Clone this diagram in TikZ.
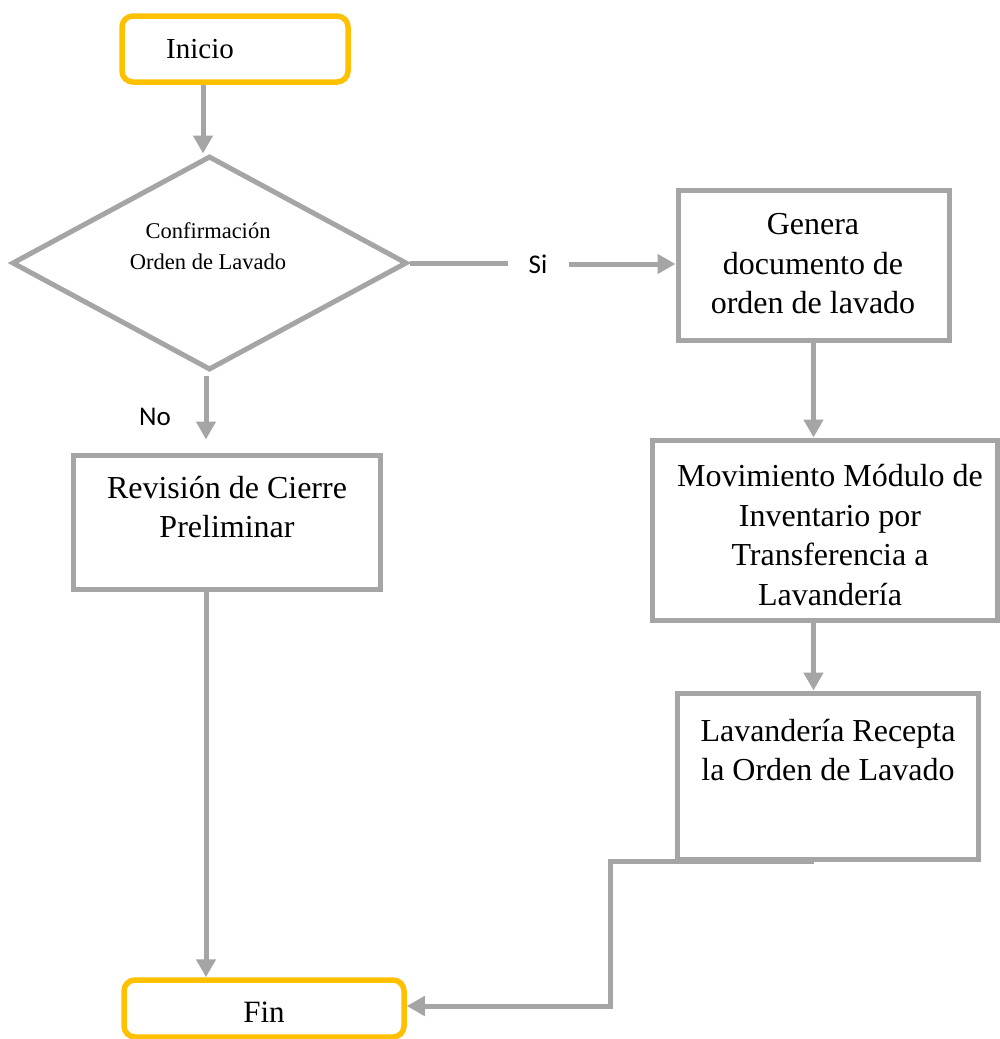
\documentclass[tikz,border=0pt]{standalone}
\usepackage{fontspec}
\setmainfont{Liberation Serif}
\newfontfamily\calibri{Carlito}
\usetikzlibrary{shapes.geometric,arrows.meta}
\definecolor{lgray}{HTML}{A5A5A5}
\definecolor{gold}{HTML}{FFC000}
\begin{document}
\begin{tikzpicture}[x=1pt,y=-1pt,
  box/.style={draw=lgray,line width=5pt,rectangle,inner sep=0pt},
  term/.style={draw=gold,line width=5.5pt,rounded corners=11pt,rectangle,inner sep=0pt},
  txt/.style={align=center,font=\fontsize{32}{39.5}\selectfont,inner sep=0pt},
  lbl/.style={font=\calibri\fontsize{27}{32}\selectfont,inner ysep=0pt},
  conn/.style={draw=lgray,line width=5pt},
  arr/.style={conn,-{Triangle[length=18pt,width=19pt]}},
]
\useasboundingbox (0,0) rectangle (999,1039);
% terminals
\node[term,minimum width=226pt,minimum height=66pt] (ini) at (235,49) {};
\node[txt,font=\fontsize{29}{35}\selectfont] (initxt) at (200,49) {Inicio};
\node[term,minimum width=280pt,minimum height=57pt] (fin) at (264,1008.5) {};
\node[txt,font=\fontsize{31}{35}\selectfont] (fintxt) at (264,1012) {Fin};
% decision
\node[draw=lgray,line width=5pt,diamond,minimum width=395pt,minimum height=214pt,inner sep=0pt] (dia) at (209.5,263) {};
\node[txt,font=\fontsize{22.5}{31}\selectfont] (diatxt) at (208,246) {Confirmación\\Orden de Lavado};
% process boxes
\node[box,minimum width=271pt,minimum height=150pt] (gen) at (813.5,265) {};
\node[txt] (gentxt) at (813,264) {Genera\\documento de\\orden de lavado};
\node[box,minimum width=345pt,minimum height=180pt] (mov) at (824.5,530) {};
\node[txt] (movtxt) at (830,535) {Movimiento Módulo de\\Inventario por\\Transferencia a\\Lavandería};
\node[box,minimum width=301pt,minimum height=166pt] (lav) at (828,776) {};
\node[txt] (lavtxt) at (828,750) {Lavandería Recepta\\la Orden de Lavado};
\node[box,minimum width=307pt,minimum height=134pt] (rev) at (226.5,522) {};
\node[txt] (revtxt) at (227,507) {Revisión de Cierre\\Preliminar};
% labels
\node[lbl,inner xsep=21pt] (si) at (538,264) {Si};
\node[lbl] (no) at (155,417) {No};
\coordinate (bend) at (610,1006);
% connectors
\draw[arr] ([xshift=-32pt]ini.south) -- ([xshift=-32pt]ini.south |- dia.north);
\draw[conn] (dia.east) -- (dia.east -| si.west);
\draw[arr] (si.east) -- (si.east -| gen.west);
\draw[arr] (gen.south) -- (gen.south |- mov.north);
\draw[arr] (mov.south -| gen.south) -- (gen.south |- lav.north);
\draw[arr] (lav.south -| gen.south) -| (bend) -- (bend -| fin.east);
\draw[arr,shorten >=13pt] ([xshift=-3.5pt,yshift=-3pt]dia.south) -- ([xshift=-3.5pt]dia.south |- rev.north);
\draw[arr] ([xshift=-20.5pt]rev.south) -- ([xshift=-20.5pt]rev.south |- fin.north);
\end{tikzpicture}
\end{document}
